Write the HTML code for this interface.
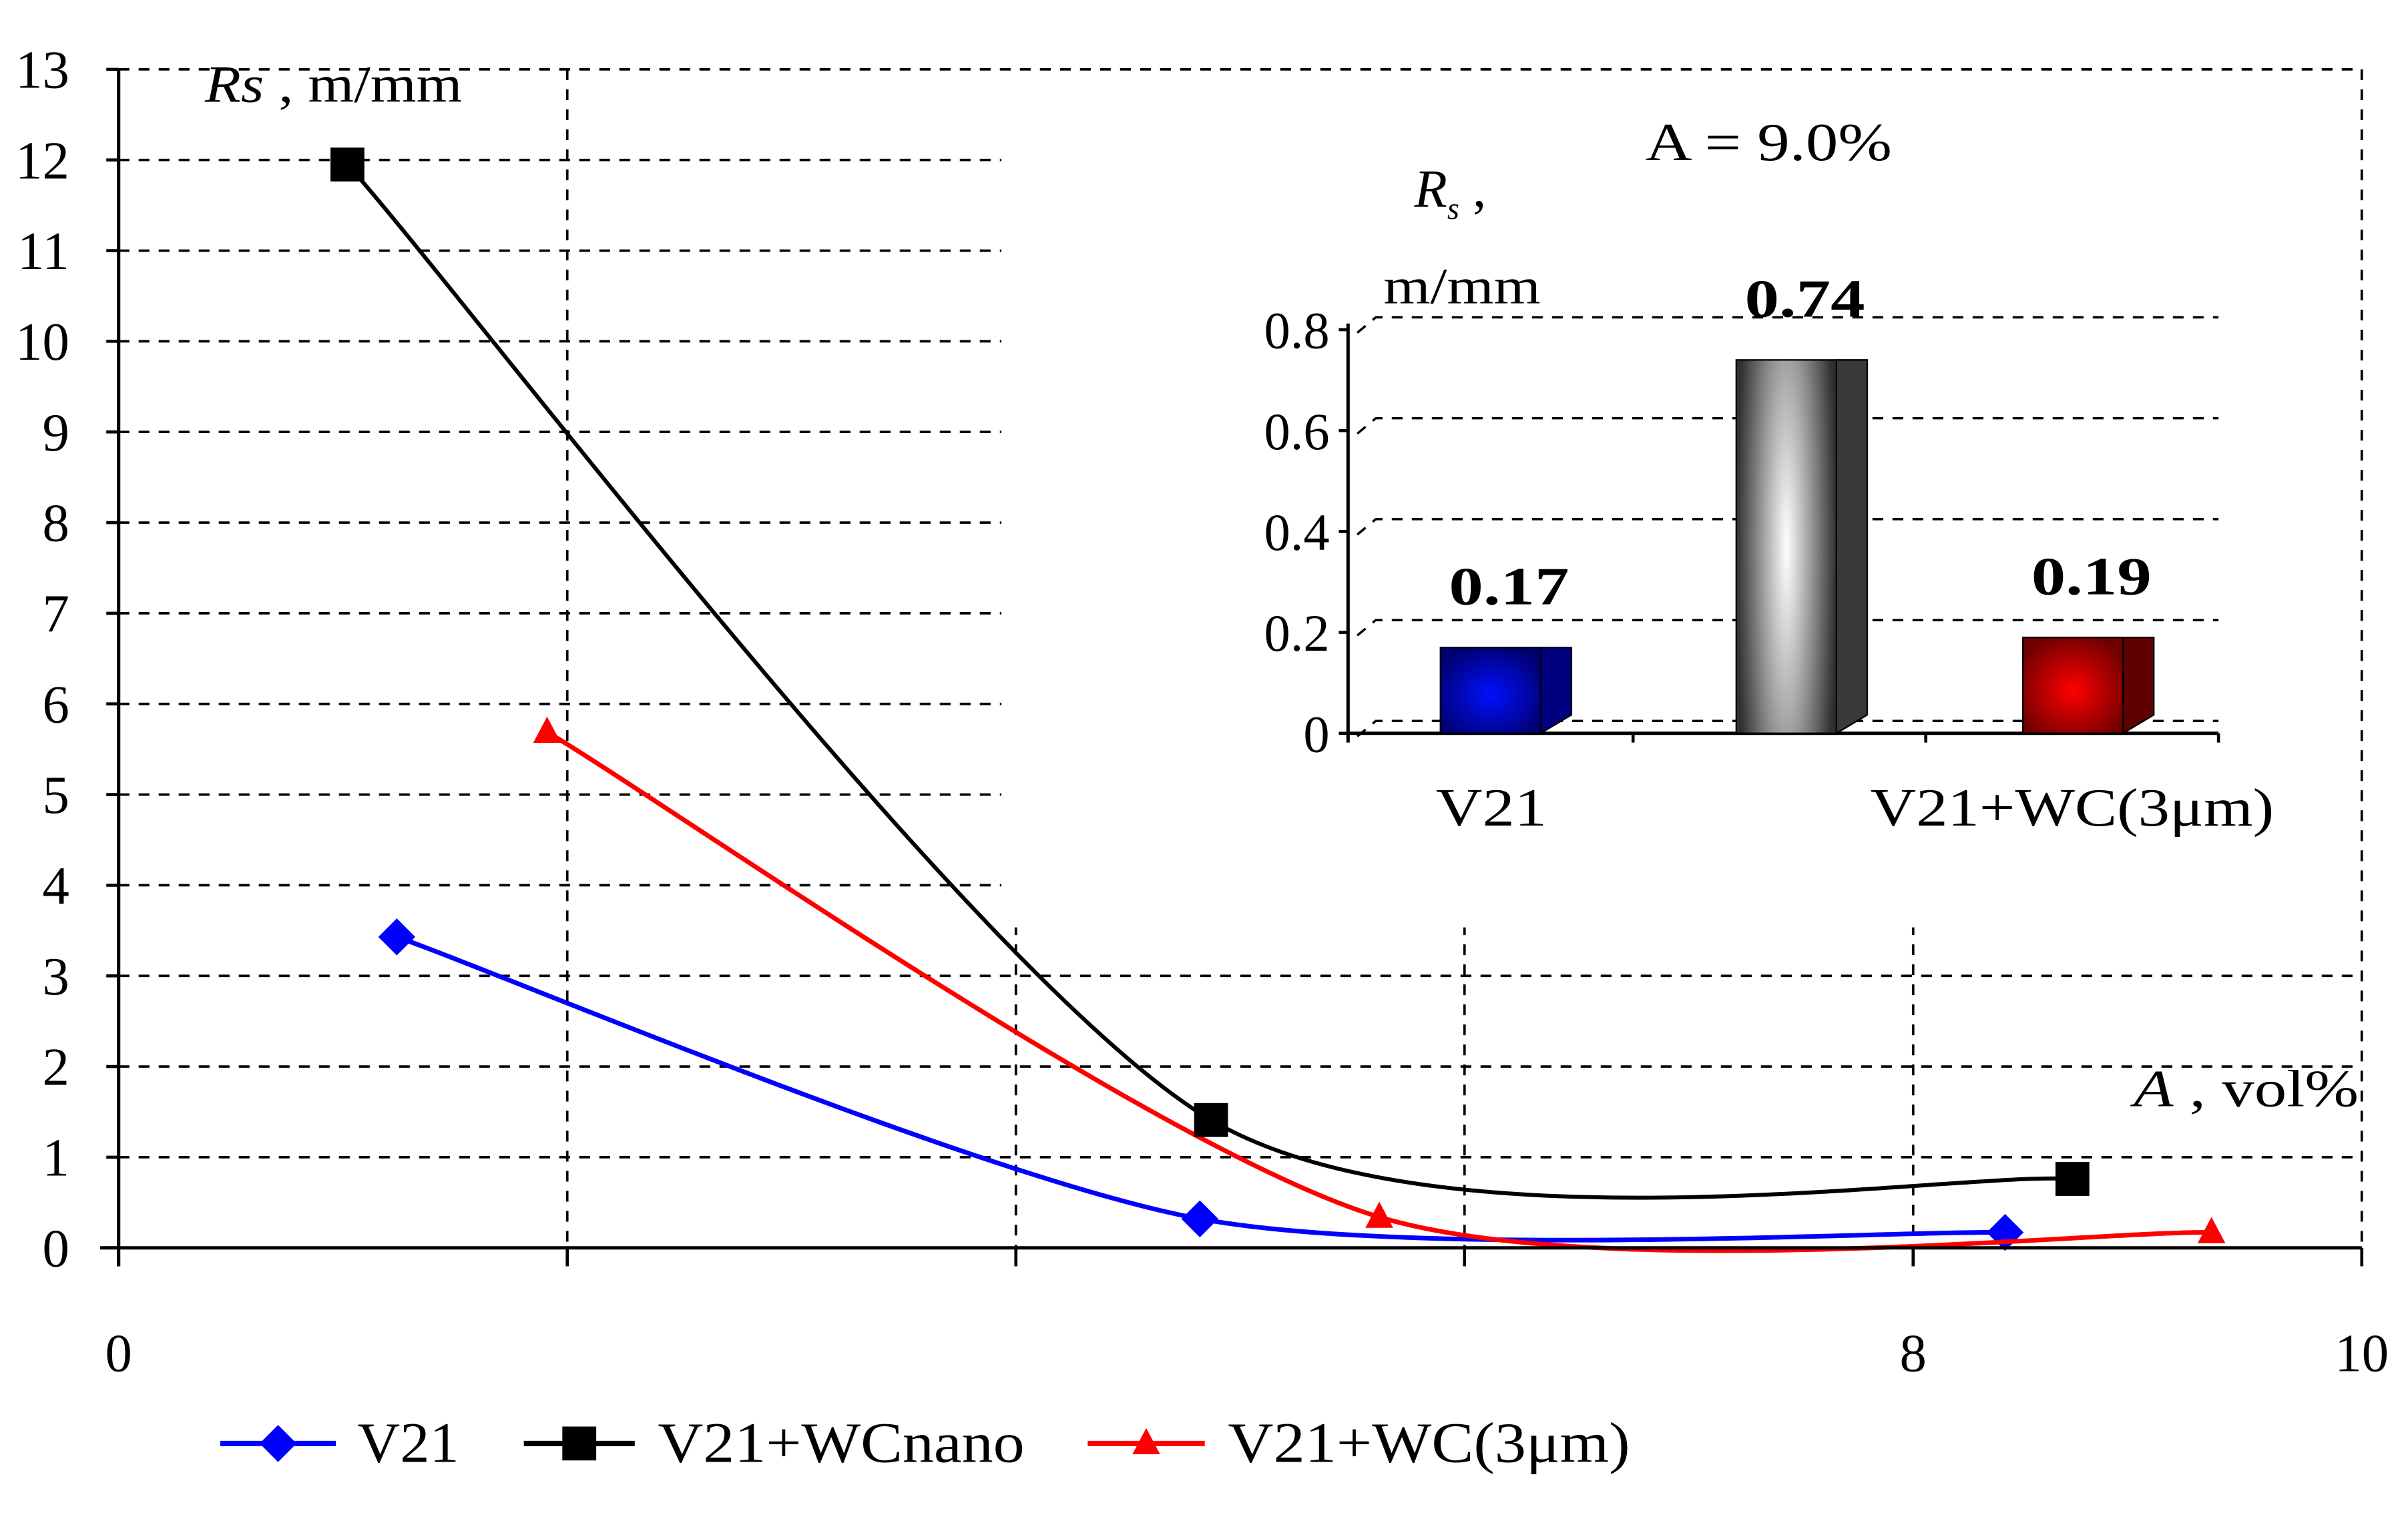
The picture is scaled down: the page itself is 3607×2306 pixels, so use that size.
<!DOCTYPE html>
<html><head><meta charset="utf-8">
<style>
html,body{margin:0;padding:0;background:#fff;}
svg{display:block;}
text{font-family:"Liberation Serif","DejaVu Serif",serif;fill:#000;}
</style></head>
<body>
<svg id="chart" width="3607" height="2306" viewBox="0 0 1563 999" preserveAspectRatio="none" xmlns="http://www.w3.org/2000/svg">
<defs>
<radialGradient id="gBlue" cx="0.5" cy="0.55" r="0.6"><stop offset="0" stop-color="#0010ff"/><stop offset="1" stop-color="#000070"/></radialGradient>
<radialGradient id="gRed" cx="0.5" cy="0.55" r="0.6"><stop offset="0" stop-color="#ff0000"/><stop offset="1" stop-color="#700000"/></radialGradient>
<radialGradient id="gGray" cx="0.5" cy="0.5" r="0.5" gradientTransform="translate(0.5 0.5) scale(1 2.2) translate(-0.5 -0.5)"><stop offset="0" stop-color="#ffffff"/><stop offset="1" stop-color="#303030"/></radialGradient>
</defs>
<g id="grid"></g>
<g id="inset"></g>
<g id="series"></g>
<g id="axes"></g>
<g id="legend"></g>
</svg>
<script>
// main chart data
const yTicks = [0,1,2,3,4,5,6,7,8,9,10,11,12,13];
const xTickLabels = ["0","","","","8","10"];
const xTickValues = [0,2,4,6,8,10];
const v21X = [1.24, 4.82, 8.41];
const v21Y = [3.43, 0.32, 0.17];
const nanoX = [1.02, 4.87, 8.71];
const nanoY = [11.95, 1.41, 0.76];
const wc3X = [1.91, 5.62, 9.33];
const wc3Y = [5.69, 0.34, 0.17];
// inset data
const barCats = ["V21", "V21+WCnano", "V21+WC(3μm)"];
const barVals = [0.17, 0.74, 0.19];
const barLabels = ["0.17", "0.74", "0.19"];
const insetTicks = [0, 0.2, 0.4, 0.6, 0.8];

const NS = "http://www.w3.org/2000/svg";
function mk(tag, attrs, parent, txt){
  const e = document.createElementNS(NS, tag);
  for (const k in attrs) e.setAttribute(k, attrs[k]);
  if (txt !== undefined) e.textContent = txt;
  parent.appendChild(e);
  return e;
}
const X0=77, X1=1533, Y0=810, Y1=45;
const sx = v => X0 + (v-0)/(10-0)*(X1-X0);
const sy = v => Y0 - (v-0)/(13-0)*(Y0-Y1);

const grid = document.getElementById('grid');
const axes = document.getElementById('axes');
const series = document.getElementById('series');
const inset = document.getElementById('inset');
const legend = document.getElementById('legend');
const dash = {stroke:"#000","stroke-width":1.6,"stroke-dasharray":"7 6",fill:"none"};

yTicks.forEach(t=>{
  if (t===0) return;
  const y = sy(t);
  const full = (t===13 || t<=3);
  const e = mk('line', Object.assign({x1:X0,x2:full?X1:650,y1:y,y2:y}, dash), grid);
  
  
});
xTickValues.forEach(v=>{
  if (v===0) return;
  const x = sx(v);
  let top = (v===2 || v===10) ? Y1 : 600;
  const e = mk('line', Object.assign({x1:x,x2:x,y1:top,y2:Y0}, dash), grid);
  
  
});

let e = mk('line',{x1:X0,x2:X0,y1:Y1,y2:Y0+12,stroke:"#000","stroke-width":2.2},axes);
 
e = mk('line',{x1:X0-12,x2:X1,y1:Y0,y2:Y0,stroke:"#000","stroke-width":2.2},axes);
 
yTicks.forEach(t=>{
  const y=sy(t);
  const tk = mk('line',{x1:X0-8,x2:X0,y1:y,y2:y,stroke:"#000","stroke-width":2},axes);
   
  const lb = mk('text',{x:45,y:y+12,"text-anchor":"end","font-size":35},axes,String(t));
   
});
xTickValues.forEach((v,i)=>{
  const x=sx(v);
  const tk = mk('line',{x1:x,x2:x,y1:Y0,y2:Y0+12,stroke:"#000","stroke-width":2},axes);
   
  if (xTickLabels[i]){
    const lb = mk('text',{x:x,y:890,"text-anchor":"middle","font-size":35},axes,xTickLabels[i]);
     
  }
});
e = mk('text',{x:133,y:66,"font-size":34,textLength:167,lengthAdjust:"spacingAndGlyphs"},axes);
 
mk('tspan',{"font-style":"italic"},e,"Rs");
mk('tspan',{},e," , m/mm");
e = mk('text',{x:1385,y:718,"font-size":34,textLength:146,lengthAdjust:"spacingAndGlyphs"},axes);
 
mk('tspan',{"font-style":"italic"},e,"A");
mk('tspan',{},e," , vol%");

function smooth(xs, ys){
  const p = xs.map((x,i)=>[sx(x), sy(ys[i])]);
  let d = `M${p[0][0]},${p[0][1]}`;
  for (let i=0;i<p.length-1;i++){
    const p0=p[Math.max(0,i-1)], p1=p[i], p2=p[i+1], p3=p[Math.min(p.length-1,i+2)];
    const k=7.5;
    const c1=[p1[0]+(p2[0]-p0[0])/k, p1[1]+(p2[1]-p0[1])/k];
    const c2=[p2[0]-(p3[0]-p1[0])/k, p2[1]-(p3[1]-p1[1])/k];
    d += ` C${c1[0]},${c1[1]} ${c2[0]},${c2[1]} ${p2[0]},${p2[1]}`;
  }
  return d;
}
function marker(kind, x, y, color, parent){
  let m;
  if (kind==='diamond') m = mk('polygon',{points:`${x},${y-12} ${x+12},${y} ${x},${y+12} ${x-12},${y}`,fill:color},parent);
  else if (kind==='square') m = mk('rect',{x:x-11,y:y-11,width:22,height:22,fill:color},parent);
  else m = mk('polygon',{points:`${x},${y-10} ${x+9},${y+7} ${x-9},${y+7}`,fill:color},parent);
  return m;
}
const defs = [
  {name:'v21', xs:v21X, ys:v21Y, color:'#0000ff', kind:'diamond', w:3},
  {name:'wc3', xs:wc3X, ys:wc3Y, color:'#ff0000', kind:'triangle', w:3},
  {name:'wcnano', xs:nanoX, ys:nanoY, color:'#000000', kind:'square', w:2.6},
];
defs.forEach(s=>{
  const g = mk('g',{},series);
  
  
  const path = mk('path',{d:smooth(s.xs,s.ys),stroke:s.color,"stroke-width":s.w,fill:"none"},g);
  
  
  s.xs.forEach((x,i)=>{
    const m = marker(s.kind, sx(x), sy(s.ys[i]), s.color, g);
    
    
  });
});

// inset bar chart
const IX=875, IY0=476, IY1=214;
const iy = v => IY0 - v/0.8*(IY0-IY1);
e = mk('rect',{x:652,y:62,width:878,height:540,fill:'#fff'},inset);
 
insetTicks.forEach(t=>{
  const y=iy(t);
  const gl = mk('path',Object.assign({d:`M${IX+6},${y+2} L${IX+18},${y-8} L1440,${y-8}`},dash,{"stroke-width":1.5}),inset);
   
  const tk = mk('line',{x1:IX-6,x2:IX,y1:y,y2:y,stroke:'#000','stroke-width':2},inset);
   
  const lb = mk('text',{x:IX-12,y:y+12,"text-anchor":"end","font-size":34},inset,String(t));
   
});
e = mk('line',{x1:IX,x2:IX,y1:IY1-4,y2:IY0+6,stroke:'#000','stroke-width':2.2},inset);
 
e = mk('line',{x1:IX,x2:1440,y1:IY0,y2:IY0,stroke:'#000','stroke-width':2.2},inset);
 
[1060,1250,1440].forEach(x=>{
  const tk = mk('line',{x1:x,x2:x,y1:IY0,y2:IY0+6,stroke:'#000','stroke-width':2},inset);
   
});
const barLeft = [935, 1127, 1313];
const fills = ['url(#gBlue)','url(#gGray)','url(#gRed)'];
const sides = ['#000080','#3a3a3a','#600000'];
barVals.forEach((v,i)=>{
  const g = mk('g',{},inset);
  
  
  const x=barLeft[i], w=65, d=20, top=iy(v);
  mk('polygon',{points:`${x+w},${top} ${x+w+d},${top} ${x+w+d},${IY0-12} ${x+w},${IY0}`,fill:sides[i],stroke:'#000','stroke-width':1},g);
  mk('rect',{x:x,y:top,width:w,height:IY0-top,fill:fills[i],stroke:'#000','stroke-width':1},g);
  const lb = mk('text',{x:x+w/2+12,y:top-28,"text-anchor":"middle","font-size":35,"font-weight":"bold",textLength:78,lengthAdjust:"spacingAndGlyphs"},inset,barLabels[i]);
   
});
e = mk('text',{x:968,y:536,"text-anchor":"middle","font-size":35,textLength:72,lengthAdjust:"spacingAndGlyphs"},inset,barCats[0]);
 
e = mk('text',{x:1345,y:536,"text-anchor":"middle","font-size":35,textLength:262,lengthAdjust:"spacingAndGlyphs"},inset,barCats[2]);
 
e = mk('text',{x:1148,y:104,"text-anchor":"middle","font-size":35,textLength:160,lengthAdjust:"spacingAndGlyphs"},inset,"A = 9.0%");
 
e = mk('text',{x:918,y:134,"font-size":35},inset);
 
mk('tspan',{"font-style":"italic"},e,"R");
mk('tspan',{"font-style":"italic","font-size":20,dy:8},e,"s");
mk('tspan',{dy:-8},e," ,");
e = mk('text',{x:898,y:197,"font-size":33,textLength:102,lengthAdjust:"spacingAndGlyphs"},inset,"m/mm");
 

// legend
const legItems = [
  {label:'V21', color:'#0000ff', kind:'diamond', x1:143, x2:218, tx:232, tw:66},
  {label:'V21+WCnano', color:'#000000', kind:'square', x1:340, x2:412, tx:427, tw:238},
  {label:'V21+WC(3μm)', color:'#ff0000', kind:'triangle', x1:706, x2:782, tx:797, tw:261},
];
legItems.forEach(it=>{
  const g = mk('g',{},legend);
  
  
  mk('line',{x1:it.x1,x2:it.x2,y1:937,y2:937,stroke:it.color,'stroke-width':3.5},g);
  marker(it.kind,(it.x1+it.x2)/2,937,it.color,g);
  mk('text',{x:it.tx,y:949,"font-size":37,textLength:it.tw,lengthAdjust:"spacingAndGlyphs"},g,it.label);
});
</script>
</body></html>
